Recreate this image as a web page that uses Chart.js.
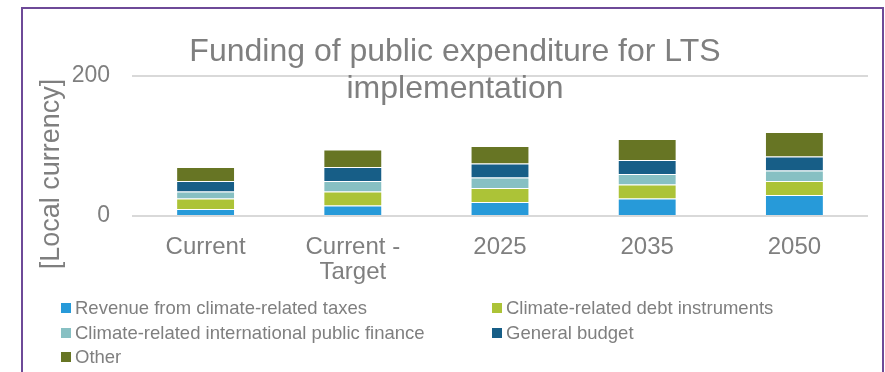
<!DOCTYPE html>
<html>
<head>
<meta charset="utf-8">
<script src="https://cdn.jsdelivr.net/npm/chart.js@4/dist/chart.umd.min.js"></script>
<style>
  body { margin: 0; background: #fff; }
  #wrap { position: relative; width: 885px; height: 372px; overflow: hidden;
          font-family: "Liberation Sans", Arial, sans-serif; color: #7f7f7f; }
  #frame { position: absolute; left: 21px; top: 7px; width: 863px; height: 420px;
           border: 2px solid #6e4a98; box-sizing: border-box; pointer-events: none; }
  #title { position: absolute; left: 25px; width: 860px; top: 32px; text-align: center;
           font-size: 32px; line-height: 37px; }
  #ytitle { position: absolute; left: 50px; top: 174px; font-size: 27px; white-space: nowrap;
            transform: translate(-50%, -50%) rotate(-90deg); }
  #legend { position: absolute; left: 61px; top: 298px; width: 800px; }
  .item { position: absolute; height: 20px; white-space: nowrap; }
  .item i { position: absolute; left: 0; top: 5px; width: 10px; height: 10px; }
  .item span { position: absolute; left: 14px; top: 0; font-size: 18.5px; line-height: 20px; }
</style>
</head>
<body>
<div id="wrap">
  <canvas id="chart" width="885" height="372"></canvas>
  <div id="title">Funding of public expenditure for LTS<br>implementation</div>
  <div id="ytitle">[Local currency]</div>
  <div id="legend"></div>
  <div id="frame"></div>
</div>
<script>
const categories = [['Current'], ['Current -', 'Target'], ['2025'], ['2035'], ['2050']];
const seriesNames = [
  'Revenue from climate-related taxes',
  'Climate-related debt instruments',
  'Climate-related international public finance',
  'General budget',
  'Other'
];
const taxes = [10, 15, 20, 25, 30];
const debt = [15, 20, 20, 20, 20];
const intlFinance = [10, 15, 15, 15, 15];
const budget = [15, 20, 20, 20, 20];
const other = [20, 25, 25, 30, 35];
const yTicks = [0, 200];

const colors = ['#279ad9', '#acc337', '#87c0c3', '#175e87', '#677524'];
const values = [taxes, debt, intlFinance, budget, other];

const chart = new Chart(document.getElementById('chart'), {
  type: 'bar',
  data: {
    labels: categories,
    datasets: values.map((v, i) => ({
      label: seriesNames[i],
      data: v,
      backgroundColor: colors[i],
      borderColor: 'rgba(255,255,255,0.3)',
      borderWidth: 1,
      categoryPercentage: 1,
      barPercentage: 0.4
    }))
  },
  options: {
    responsive: false,
    animation: false,
    layout: { padding: { top: 76, right: 17, bottom: 76, left: 0 } },
    plugins: { legend: { display: false }, tooltip: { enabled: false } },
    scales: {
      x: {
        stacked: true,
        grid: { display: false },
        border: { display: false },
        ticks: { color: '#7f7f7f', padding: 11, font: { family: 'Liberation Sans', size: 24, lineHeight: 1.04 } },
        afterFit: s => { s.height = 80; }
      },
      y: {
        stacked: true,
        min: yTicks[0],
        max: yTicks[yTicks.length - 1],
        afterBuildTicks: s => { s.ticks = yTicks.map(v => ({ value: v })); },
        grid: { color: '#d9d9d9', lineWidth: 2, drawTicks: false },
        border: { display: false },
        ticks: { color: '#7f7f7f', padding: 22, font: { family: 'Liberation Sans', size: 23 } },
        afterFit: s => { s.width = 132; }
      }
    }
  }
});

// legend in two columns, built from the chart's datasets
const legend = document.getElementById('legend');
chart.data.datasets.forEach((ds, i) => {
  const el = document.createElement('div');
  el.className = 'item';
  el.style.left = (i % 2 ? 431 : 0) + 'px';
  el.style.top = (Math.floor(i / 2) * 24.5) + 'px';
  el.innerHTML = '<i style="background:' + ds.backgroundColor + '"></i><span>' + ds.label + '</span>';
  legend.appendChild(el);
});
</script>
</body>
</html>
